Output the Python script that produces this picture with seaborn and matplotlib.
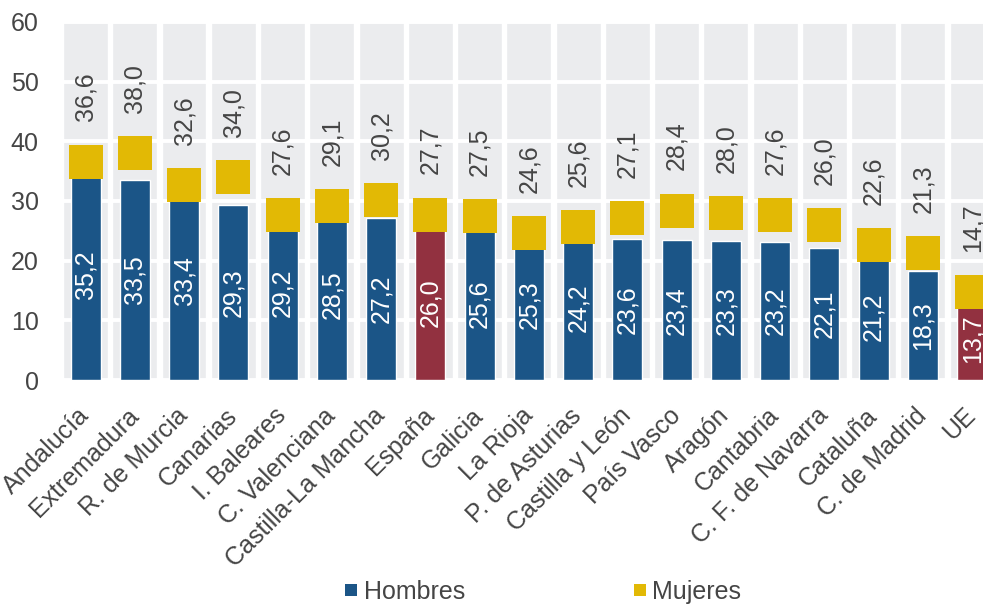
import numpy as np
import pandas as pd
import matplotlib
matplotlib.use("Agg")
import matplotlib.pyplot as plt
from matplotlib.lines import Line2D
import seaborn as sns

# Regions ordered by male rate
regiones = ["Andalucía", "Extremadura", "R. de Murcia", "Canarias", "I. Baleares",
            "C. Valenciana", "Castilla-La Mancha", "España", "Galicia", "La Rioja",
            "P. de Asturias", "Castilla y León", "País Vasco", "Aragón", "Cantabria",
            "C. F. de Navarra", "Cataluña", "C. de Madrid", "UE"]
hombres = [35.2, 33.5, 33.4, 29.3, 29.2, 28.5, 27.2, 26.0, 25.6, 25.3,
           24.2, 23.6, 23.4, 23.3, 23.2, 22.1, 21.2, 18.3, 13.7]
mujeres = [36.6, 38.0, 32.6, 34.0, 27.6, 29.1, 30.2, 27.7, 27.5, 24.6,
           25.6, 27.1, 28.4, 28.0, 27.6, 26.0, 22.6, 21.3, 14.7]
destacados = ["España", "UE"]
y_ticks = [0, 10, 20, 30, 40, 50, 60]

AZUL = "#1B5587"
ROJO = "#923140"
AMARILLO = "#E2B905"
GRIS = "#EBECEE"
TEXTO = "#454545"
FS = 18

sns.set_theme(style="white")
plt.rcParams["font.family"] = ["Liberation Sans", "DejaVu Sans"]

df = pd.DataFrame({"region": regiones, "hombres": hombres, "mujeres": mujeres})
df["fondo"] = max(y_ticks)
df["pos"] = np.arange(len(df))
colores = [ROJO if r in destacados else AZUL for r in regiones]

fig = plt.figure(figsize=(9.83, 6.10), dpi=100)
ax = fig.add_axes([0.0620, 0.377, 0.952, 0.587])

# light column behind each region
sns.barplot(data=df, x="region", y="fondo", color=GRIS, saturation=1,
            width=0.91, zorder=0.1, ax=ax)
# male bars
sns.barplot(data=df, x="region", y="hombres", hue="region", palette=colores,
            saturation=1, width=0.61, legend=False, zorder=2, ax=ax)
# female markers
ax.scatter(df["pos"], df["mujeres"], marker="s", s=566, color=AMARILLO,
           linewidths=0, zorder=3)

for i, (h, m) in enumerate(zip(hombres, mujeres)):
    ax.text(i, h / 2, f"{h:.1f}".replace(".", ","), rotation=90,
            ha="center", va="center", color="white", fontsize=FS, zorder=4)
    ax.annotate(f"{m:.1f}".replace(".", ","), (i, m), xytext=(0, 29),
                textcoords="offset points", rotation=90, ha="center",
                va="bottom", color=TEXTO, fontsize=FS, zorder=4)

ax.set_ylim(0, max(y_ticks))
ax.set_xlim(-0.5, len(regiones) - 0.5)
ax.set_yticks(y_ticks)
ax.set_yticklabels([str(t) for t in y_ticks])
ax.set_axisbelow(True)
ax.grid(axis="y", color="white", linewidth=2.8)
ax.grid(axis="x", visible=False)
ax.set_facecolor("white")
for s in ax.spines.values():
    s.set_visible(False)
ax.set_xlabel("")
ax.set_ylabel("")
ax.tick_params(axis="y", length=0, pad=16, labelsize=FS, labelcolor=TEXTO)
ax.tick_params(axis="x", length=0, pad=23, labelsize=FS, labelcolor=TEXTO)
for lbl in ax.get_xticklabels():
    lbl.set_rotation(45)
    lbl.set_ha("right")
    lbl.set_va("center")
    lbl.set_rotation_mode("anchor")

handles = [Line2D([], [], marker="s", linestyle="none", markersize=9,
                  markerfacecolor=AZUL, markeredgewidth=0, label="Hombres"),
           Line2D([], [], marker="s", linestyle="none", markersize=9,
                  markerfacecolor=AMARILLO, markeredgewidth=0, label="Mujeres")]
fig.legend(handles=handles, loc="center", bbox_to_anchor=(0.552, 0.03), ncol=2,
           frameon=False, fontsize=FS, handlelength=0.6, handletextpad=0.2,
           columnspacing=6.7, labelcolor=TEXTO)

fig.savefig("out.png", dpi=100)
